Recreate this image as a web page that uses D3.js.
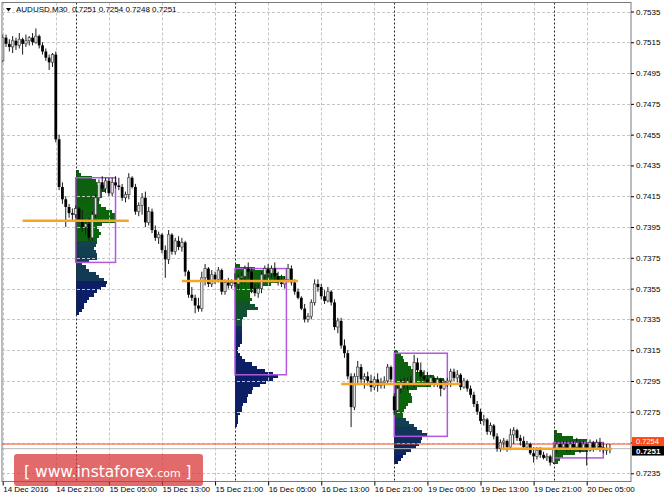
<!DOCTYPE html>
<html><head><meta charset="utf-8">
<script src="https://cdn.jsdelivr.net/npm/d3@7"></script>
<style>
html,body{margin:0;padding:0;background:#fff;}
svg{display:block;font-family:"Liberation Sans",Arial,sans-serif;}
</style></head><body>
<svg id="c" width="664" height="498"></svg>
<script>
const symbol = "AUDUSD,M30";
// M30 bars, index 0 = 14 Dec 2016 13:00
const open = [
.7503,.7518,.7514,.7512,.7516,.7513,.7517,.7514,.7516,.7518,.7515,.7519,.7513,.7509,.7505,.7502,.7507,.7452,.7421,.7413,.7408,.7404,
.7403,.7407,.7400,.7395,.7397,.7388,.7403,.7414,.7424,.7420,.7425,.7417,.7424,.7422,.7421,.7414,.7416,.7427,.7421,.7405,.7409,.7414,.7398,.7405,.7393,.7388,.7390,.7380,.7374,.7390,.7379,.7386,.7382,.7385,.7366,.7351,.7349,.7344,.7342,.7362,.7368,.7358,.7364,.7361,.7367,.7353,.7359,.7357,
.7359,.7358,.7362,.7363,.7368,.7366,.7355,.7352,.7355,.7364,.7368,.7365,.7368,.7363,.7359,.7358,.7361,.7368,.7359,.7353,.7349,.7342,.7335,.7337,.7346,.7358,.7356,.7350,.7347,.7353,.7346,.7330,.7334,.7318,.7313,.7298,.7278,.7298,.7304,.7296,.7298,.7295,.7291,.7296,.7292,.7294,.7295,.7304,
.7285,.7276,.7290,.7294,.7293,.7295,.7293,.7307,.7302,.7298,.7296,.7294,.7297,.7293,.7296,.7290,.7294,.7295,.7301,.7297,.7299,.7291,.7295,.7290,.7286,.7280,.7275,.7269,.7270,.7262,.7266,.7259,.7251,.7255,.7256,.7252,.7260,.7263,.7258,.7256,.7252,.7254,.7248,.7246,.7250,.7247,.7245,.7246,
.7242,.7251,.7254,.7252,.7254,.7251,.7254,.7252,.7255,.7250,.7254,.7250,.7255,.7251,.7255,.7252,.7250,.7251];
const high = [
.7520,.7520,.7517,.7519,.7518,.7521,.7518,.7520,.7519,.7521,.7524,.7520,.7515,.7511,.7507,.7508,.7509,.7455,.7424,.7415,.7410,.7407,
.7409,.7408,.7406,.7399,.7401,.7405,.7416,.7426,.7428,.7427,.7427,.7427,.7428,.7427,.7423,.7418,.7430,.7428,.7423,.7411,.7417,.7418,.7408,.7407,.7396,.7392,.7391,.7383,.7393,.7391,.7388,.7389,.7388,.7386,.7367,.7356,.7351,.7349,.7366,.7371,.7369,.7367,.7366,.7369,.7368,.7361,.7362,.7361,
.7365,.7364,.7366,.7370,.7372,.7368,.7358,.7358,.7366,.7370,.7371,.7370,.7372,.7366,.7364,.7363,.7371,.7370,.7361,.7355,.7350,.7345,.7339,.7348,.7361,.7361,.7358,.7354,.7356,.7354,.7348,.7336,.7336,.7322,.7315,.7300,.7300,.7308,.7306,.7300,.7301,.7299,.7298,.7300,.7297,.7298,.7306,.7305,
.7287,.7292,.7296,.7297,.7297,.7298,.7312,.7310,.7307,.7302,.7301,.7299,.7298,.7298,.7297,.7296,.7297,.7303,.7303,.7302,.7300,.7297,.7296,.7292,.7288,.7282,.7277,.7273,.7271,.7268,.7267,.7261,.7257,.7258,.7257,.7264,.7265,.7264,.7260,.7259,.7256,.7255,.7252,.7252,.7252,.7249,.7248,.7247,
.7252,.7256,.7256,.7256,.7256,.7256,.7256,.7258,.7256,.7256,.7255,.7257,.7256,.7257,.7258,.7255,.7254,.7254];
const low = [
.7502,.7512,.7509,.7508,.7510,.7511,.7507,.7512,.7513,.7513,.7514,.7511,.7507,.7503,.7497,.7499,.7450,.7419,.7410,.7395,.7401,.7399,
.7401,.7398,.7392,.7390,.7386,.7386,.7401,.7412,.7418,.7417,.7415,.7415,.7420,.7419,.7412,.7411,.7413,.7420,.7403,.7402,.7403,.7395,.7396,.7391,.7386,.7384,.7378,.7362,.7371,.7377,.7377,.7380,.7379,.7363,.7349,.7347,.7339,.7340,.7340,.7357,.7356,.7356,.7358,.7359,.7351,.7351,.7355,.7355,
.7356,.7354,.7358,.7358,.7362,.7352,.7350,.7349,.7352,.7360,.7362,.7362,.7360,.7357,.7356,.7355,.7359,.7357,.7351,.7348,.7341,.7333,.7333,.7335,.7344,.7353,.7348,.7345,.7346,.7344,.7328,.7326,.7316,.7310,.7296,.7265,.7276,.7293,.7293,.7290,.7292,.7288,.7289,.7288,.7290,.7290,.7293,.7294,
.7273,.7275,.7287,.7290,.7289,.7292,.7291,.7300,.7296,.7293,.7291,.7292,.7291,.7291,.7285,.7289,.7291,.7291,.7295,.7294,.7289,.7290,.7288,.7284,.7278,.7273,.7267,.7266,.7260,.7260,.7257,.7249,.7249,.7250,.7249,.7250,.7254,.7256,.7253,.7250,.7250,.7247,.7242,.7244,.7245,.7244,.7243,.7240,
.7241,.7248,.7250,.7250,.7249,.7249,.7250,.7251,.7248,.7249,.7240,.7249,.7249,.7250,.7249,.7248,.7247,.7248];
const close = [
.7518,.7514,.7512,.7516,.7513,.7517,.7514,.7516,.7518,.7515,.7519,.7513,.7509,.7505,.7502,.7507,.7452,.7421,.7413,.7408,.7404,.7403,
.7407,.7400,.7395,.7397,.7388,.7403,.7414,.7424,.7420,.7425,.7417,.7424,.7422,.7421,.7414,.7416,.7427,.7421,.7405,.7409,.7414,.7398,.7405,.7393,.7388,.7390,.7380,.7374,.7390,.7379,.7386,.7382,.7385,.7366,.7351,.7349,.7344,.7342,.7362,.7368,.7358,.7364,.7361,.7367,.7353,.7359,.7357,.7359,
.7358,.7362,.7363,.7368,.7366,.7355,.7352,.7355,.7364,.7368,.7365,.7368,.7363,.7359,.7358,.7361,.7368,.7359,.7353,.7349,.7342,.7335,.7337,.7346,.7358,.7356,.7350,.7347,.7353,.7346,.7330,.7334,.7318,.7313,.7298,.7278,.7298,.7304,.7296,.7298,.7295,.7291,.7296,.7292,.7294,.7295,.7304,.7296,
.7276,.7290,.7294,.7293,.7295,.7293,.7307,.7302,.7298,.7296,.7294,.7297,.7293,.7296,.7290,.7294,.7295,.7301,.7297,.7299,.7291,.7295,.7290,.7286,.7280,.7275,.7269,.7270,.7262,.7266,.7259,.7251,.7255,.7256,.7252,.7260,.7263,.7258,.7256,.7252,.7254,.7248,.7246,.7250,.7247,.7245,.7246,.7242,
.7251,.7254,.7252,.7254,.7251,.7254,.7252,.7255,.7250,.7254,.7250,.7255,.7251,.7255,.7252,.7250,.7251,.7251];

const priceTicks = [0.7535,0.7515,0.7495,0.7475,0.7455,0.7435,0.7415,0.7395,0.7375,0.7355,0.7335,0.7315,0.7295,0.7275,0.7255,0.7235];
const timeTickBars = [0,16,32,48,64,80,96,112,128,144,160,176];
const timeTickLabels = ["14 Dec 2016","14 Dec 21:00","15 Dec 05:00","15 Dec 13:00","15 Dec 21:00","16 Dec 05:00","16 Dec 13:00","16 Dec 21:00","19 Dec 05:00","19 Dec 13:00","19 Dec 21:00","20 Dec 05:00"];
const dayStartBars = [22,70,118,166];
const barsPerDay = 48;
const askPrice = 0.7254;
const bidPrice = 0.7251;

// Market profile (TPO counts per 2-pip row, from the top price down)
const profileStep = 0.0002;
const profileTop = [0.7431,0.7370,0.7314,0.7262];
const profile15Dec = [1,1.5,5,6,6.5,8.5,9,8,8,7,7,7.5,9,11,12,12,12,8,6.5,7,7.5,7,6.5,6.5,6,5.5,6,6.5,6.5,4,2,3,4,6,7,8.5,9.5,9,7.5,6.5,5.5,4,3.5,2.5,2.5,2,1];
const profile16Dec = [1.5,6,10.5,13,15,13,11,8.5,5.5,4.5,4.5,5,4.5,6,7,3.5,3.5,2.5,2,2,2,2,2,2,2,2,1.5,1,1,1.5,2,3,5,6.5,9,11.5,13,11.5,9.5,7.5,5.5,5,4,3.5,3.5,2.5,2,2,1.5,1,1,1,0.5];
const profile19Dec = [1,2,2.5,3,4,5,6.5,9,12,15,15.5,11,7,4.5,5,5.5,5.5,4,3.5,3,2.5,2.5,3.5,4.5,6,7,8.5,10,8.5,8,7.5,6.5,5,3.5,2.5,2,1];
const profile20Dec = [1,2.5,6,10,12.5,14.5,10.5,6.5,3,2,1.5];
// value area boxes
const vaEndBar = [34,85.5,134,181];
const vaHigh = [0.7427,0.7368,0.7313,0.7255];
const vaLow = [0.7372,0.7299,0.7259,0.7245];
// point of control lines
const pocPrice = [0.7399,0.7360,0.7293,0.7251];
const pocFromBar = [6,54,102,150];
const pocToBar = [38,89,138,183.5];

const svg = d3.select("#c");
const W = 664, H = 498;
const L = 2, T = 2.5, R = 631, B = 481.5;
const x = d3.scaleLinear().domain([0,176]).range([2.7,586.7]);
const y = d3.scaleLinear().domain([0.7235,0.7535]).range([473.3,11.5]);

svg.append("rect").attr("width",W).attr("height",H).attr("fill","#fff");
svg.append("clipPath").attr("id","clip").append("rect")
  .attr("x",L).attr("y",T).attr("width",R-L).attr("height",B-T);
const plot = svg.append("g").attr("clip-path","url(#clip)");

// profiles, each row coloured by the time the price was first traded that day
const profiles = [profile15Dec,profile16Dec,profile19Dec,profile20Dec];
const tpoColor = d3.scaleLinear()
  .domain([0,0.33,0.5,0.68,1])
  .range(["#0c640c","#0e5c14","#15484c","#0b1f66","#0a1868"]);
function firstTouch(s, p, j, n){
  for (let i = s; i < Math.min(s + barsPerDay, close.length); i++) {
    if (low[i] <= p + profileStep/2 && high[i] >= p - profileStep/2) return (i - s)/barsPerDay;
  }
  return j / n;
}
const gProf = plot.append("g").attr("shape-rendering","crispEdges");
profiles.forEach((rows,k) => {
  const s = dayStartBars[k];
  rows.forEach((cnt,j) => {
    const p = profileTop[k] - j*profileStep;
    const y0 = y(p + profileStep/2), y1 = y(p - profileStep/2);
    gProf.append("rect")
      .attr("x", x(s)).attr("width", x(s+cnt) - x(s))
      .attr("y", y0).attr("height", y1 - y0 + 0.3)
      .attr("fill", tpoColor(firstTouch(s,p,j,rows.length)));
  });
});

// grid
const grid = plot.append("g").attr("stroke","#c6c6c6").attr("stroke-dasharray","3,2").attr("stroke-width",1);
priceTicks.forEach(p => {
  const yy = Math.round(y(p)) + 0.5;
  grid.append("line").attr("x1",L).attr("x2",R).attr("y1",yy).attr("y2",yy);
});
timeTickBars.forEach(b => {
  const xx = Math.round(x(b)) + 0.5;
  grid.append("line").attr("x1",xx).attr("x2",xx).attr("y1",T).attr("y2",B);
});
// day separators
dayStartBars.forEach(b => {
  const xx = Math.round(x(b)) + 0.5;
  plot.append("line").attr("x1",xx).attr("x2",xx).attr("y1",T).attr("y2",B)
    .attr("stroke","#2a2a2a").attr("stroke-dasharray","2,2").attr("stroke-width",1);
});

// value area boxes
dayStartBars.forEach((s,k) => {
  plot.append("rect")
    .attr("x", x(s)).attr("width", x(vaEndBar[k]) - x(s))
    .attr("y", y(vaHigh[k])).attr("height", y(vaLow[k]) - y(vaHigh[k]))
    .attr("fill","none").attr("stroke","#b257e0").attr("stroke-width",1.5);
});

// ask / bid lines
plot.append("line").attr("x1",L).attr("x2",R).attr("y1",y(askPrice)).attr("y2",y(askPrice))
  .attr("stroke","#f2552c").attr("stroke-width",1);
plot.append("line").attr("x1",L).attr("x2",R).attr("y1",y(bidPrice)).attr("y2",y(bidPrice))
  .attr("stroke","#b8b8b8").attr("stroke-width",1);

// candles
const bw = 2.4;
const gC = plot.append("g");
close.forEach((c,i) => {
  const o = open[i], cx = x(i);
  gC.append("line").attr("x1",cx).attr("x2",cx).attr("y1",y(high[i])).attr("y2",y(low[i]))
    .attr("stroke","#1a1a1a").attr("stroke-width",1);
  const top = y(Math.max(o,c)), bot = y(Math.min(o,c));
  const hh = Math.max(bot - top, 1);
  if (c >= o) {
    gC.append("rect").attr("x",cx-bw/2).attr("y",top).attr("width",bw).attr("height",hh)
      .attr("fill","#e2e2e2").attr("stroke","#444").attr("stroke-width",0.7);
  } else {
    gC.append("rect").attr("x",cx-bw/2-0.2).attr("y",top).attr("width",bw+0.4).attr("height",hh)
      .attr("fill","#000");
  }
});

// POC lines
pocPrice.forEach((p,k) => {
  plot.append("line").attr("x1",x(pocFromBar[k])).attr("x2",x(pocToBar[k]))
    .attr("y1",y(p)).attr("y2",y(p))
    .attr("stroke","#f6a623").attr("stroke-width",2.5);
});

// frame
svg.append("rect").attr("x",L).attr("y",T).attr("width",R-L).attr("height",B-T)
  .attr("fill","none").attr("stroke","#7a7a7a").attr("stroke-width",1);

// right axis
const yAxis = svg.append("g").attr("transform",`translate(${R},0)`)
  .call(d3.axisRight(y).tickValues(priceTicks).tickSize(3).tickPadding(2).tickFormat(d3.format(".4f")));
yAxis.select(".domain").remove();
yAxis.selectAll("text").attr("font-size","8px").attr("font-family","Liberation Sans, Arial, sans-serif").attr("fill","#000")
  .style("display", d => (Math.abs(y(d) - y(askPrice)) < 8 || Math.abs(y(d) - y(bidPrice)) < 8) ? "none" : null);
yAxis.selectAll("line").attr("stroke","#000");

// bottom axis
const xAxis = svg.append("g").attr("transform",`translate(0,${B})`)
  .call(d3.axisBottom(x).tickValues(timeTickBars).tickSize(4).tickPadding(0.5).tickFormat((d,i) => timeTickLabels[i]));
xAxis.select(".domain").remove();
xAxis.selectAll("text").attr("font-size","8px").attr("font-family","Liberation Sans, Arial, sans-serif")
  .attr("fill","#000").attr("text-anchor","start").attr("x",0);
xAxis.selectAll("line").attr("stroke","#000");

// price labels (ask above, bid below, stacked)
const fmt = d3.format(".4f");
const askY = y(askPrice), bidY = y(bidPrice);
svg.append("rect").attr("x",R+1).attr("y",askY-7).attr("width",W-R-1).attr("height",9).attr("fill","#ff4a1c");
svg.append("text").attr("x",R+5).attr("y",askY).attr("font-size","7.5px").attr("fill","#fff").text(fmt(askPrice));
svg.append("rect").attr("x",R+1).attr("y",askY+2).attr("width",W-R-1).attr("height",9.5).attr("fill","#000");
svg.append("text").attr("x",R+5).attr("y",askY+9.5).attr("font-size","8px").attr("font-weight","bold").attr("fill","#fff").text(fmt(bidPrice));

// title
const n = close.length - 1;
svg.append("path").attr("d","M6,8 L11,8 L8.5,11.5 Z").attr("fill","#000");
svg.append("text").attr("x",16).attr("y",12).attr("font-size","8px").attr("fill","#000")
  .attr("xml:space","preserve")
  .text(`${symbol}  ${fmt(open[n])} ${fmt(high[n])} ${fmt(low[n])} ${fmt(close[n])}`);

// watermark
svg.append("rect").attr("x",14).attr("y",454).attr("width",189).attr("height",32).attr("rx",3)
  .attr("fill","#d93636").attr("opacity",0.74);
const wm = svg.append("text").attr("x",24).attr("y",477).attr("fill","#fff")
  .attr("font-family","DejaVu Sans, Verdana, sans-serif").attr("xml:space","preserve");
wm.append("tspan").attr("font-size","15.5px").text("[ www.instaforex");
wm.append("tspan").attr("font-size","11px").text(".com");
wm.append("tspan").attr("font-size","15px").text(" ]");
</script>
</body></html>
